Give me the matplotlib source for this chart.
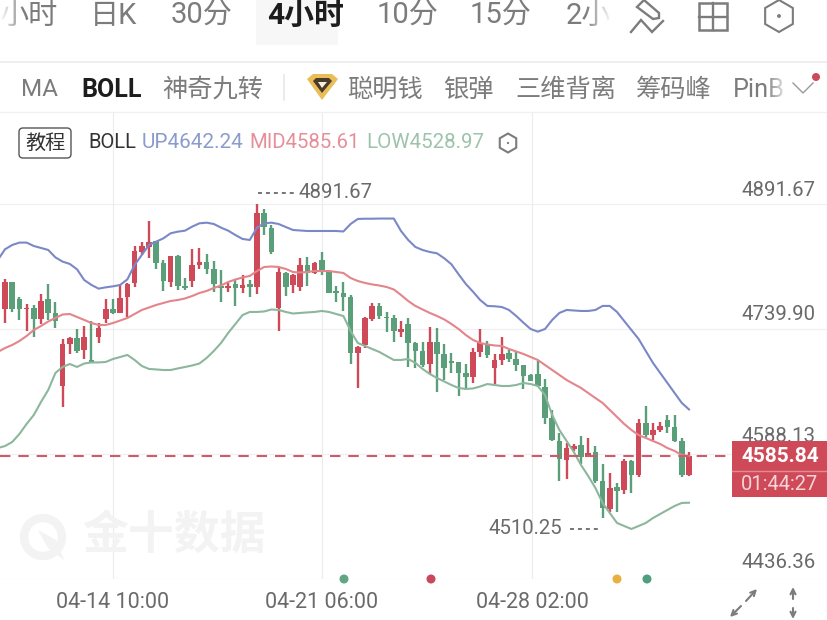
#!/usr/bin/env python
"""4 hour candlestick chart with BOLL bands, app screenshot style"""
import matplotlib
matplotlib.use("Agg")
import matplotlib.pyplot as plt
import numpy as np
from matplotlib.patches import FancyBboxPatch, Polygon, Rectangle, Circle

plt.rcParams["font.family"] = ["Roboto", "Noto Sans CJK SC", "DejaVu Sans"]

opens = [4764.2, 4797.4, 4776, 4763.8, 4765, 4751.7, 4776, 4759.8, 4670.7, 4721.3, 4728.6, 4714.4,
         4702.3, 4729.8, 4751.7, 4764.2, 4759.8, 4778.4, 4795.4, 4833.8, 4839.9, 4847.2, 4819.7, 4797.4,
         4829, 4791.3, 4798.2, 4817.6, 4820.9, 4812.4, 4792.5, 4790.1, 4794.2, 4789.3, 4794.2, 4790.5,
         4880.4, 4863, 4765, 4808.3, 4793.3, 4791.3, 4817.6, 4807.5, 4823.7, 4808.7, 4785.2, 4783.2,
         4779.2, 4711.2, 4720.5, 4751.6, 4767.8, 4754.9, 4752.9, 4736.7, 4745.6, 4723.3, 4713.6, 4697.4,
         4723.7, 4709.1, 4700.2, 4699.4, 4686, 4682, 4711.6, 4721.7, 4693, 4702.3, 4710.4, 4703.5,
         4695.8, 4684.5, 4685.3, 4669.9, 4631.4, 4604.3, 4580.8, 4593.8, 4599, 4584.9, 4590.9, 4555.3,
         4520.9, 4548.4, 4544.4, 4580, 4562.6, 4625.3, 4611.2, 4617.2, 4629.4, 4620.5, 4604.3, 4562.6]
closes = [4797.4, 4764.2, 4764.2, 4765, 4751.7, 4774.3, 4759.8, 4750, 4721.3, 4728.6, 4713.6, 4730.6,
          4699.9, 4740.7, 4764.2, 4759.8, 4778, 4794.2, 4835, 4840.7, 4846, 4819.7, 4798.2, 4829,
          4792.1, 4790.1, 4817.6, 4821.7, 4812.8, 4794.2, 4790.1, 4791.3, 4790.1, 4793.4, 4790.9, 4880.4,
          4863.4, 4833, 4808.7, 4791.3, 4805.5, 4817.6, 4807.5, 4820.4, 4810.7, 4784, 4784, 4779.2,
          4710.4, 4718.5, 4752.9, 4768.2, 4756.1, 4752.9, 4737.5, 4739.5, 4722.5, 4713.6, 4696.2, 4723.7,
          4709.6, 4692.1, 4699, 4686, 4682, 4712.4, 4722.5, 4708.3, 4702.3, 4709.6, 4703.5, 4696.2,
          4682.8, 4677.2, 4670.7, 4631.4, 4605.1, 4581.6, 4595, 4598.2, 4584.9, 4589.7, 4555.7, 4522.1,
          4547.2, 4543.6, 4580, 4562.6, 4625.3, 4611.2, 4617.2, 4622.1, 4620.5, 4604.3, 4562.6, 4585.84]
highs = [4800.2, 4797.4, 4779.2, 4769.9, 4769, 4782, 4794.2, 4773.1, 4727.4, 4730.6, 4739.5, 4744,
         4749.6, 4746.8, 4776.4, 4776.4, 4794.2, 4795.4, 4840.7, 4846, 4871, 4847.2, 4823.7, 4829,
         4829.8, 4801.4, 4837, 4837.9, 4830.6, 4822.9, 4811.6, 4795.4, 4799.4, 4805.5, 4799.4, 4891.67,
         4885.2, 4866.2, 4813.6, 4809.5, 4806.3, 4825.7, 4826.9, 4820.8, 4833, 4809.5, 4792.5, 4797.4,
         4781.2, 4719.3, 4754.1, 4771.9, 4771.9, 4760.1, 4756.9, 4749.6, 4752.9, 4724.5, 4724.5, 4742.7,
         4740.7, 4721.3, 4711.2, 4700.2, 4697, 4716.4, 4739.9, 4725.3, 4709.1, 4729.8, 4714.4, 4711.6,
         4696.2, 4685.3, 4701.5, 4678.8, 4641.5, 4614, 4601, 4600.2, 4610, 4607.1, 4598.2, 4576,
         4564.6, 4553.3, 4582, 4580.8, 4630.6, 4646.4, 4625.3, 4627.4, 4635.4, 4635.4, 4607.1, 4590.1]
lows = [4746.8, 4761, 4750.8, 4737.9, 4730.6, 4745.6, 4750.8, 4741.6, 4644.8, 4709.2, 4710.4, 4703.1,
        4699, 4723.3, 4746.8, 4757.7, 4759, 4754.9, 4791.3, 4829.8, 4825.7, 4812.4, 4786.5, 4790.5,
        4787.3, 4787.3, 4791.3, 4812.4, 4806.7, 4785.2, 4773.1, 4785.2, 4767.9, 4783.2, 4779.2, 4782,
        4854, 4831, 4737.5, 4780, 4783.2, 4786.4, 4792.5, 4806.7, 4805.5, 4783.2, 4772.3, 4761.8,
        4697, 4668.7, 4716.4, 4749.6, 4752, 4736.7, 4723.7, 4729.8, 4694.2, 4693, 4694.2, 4685.3,
        4663.8, 4678, 4686.9, 4658.6, 4667.9, 4674.7, 4706.3, 4704.3, 4673.1, 4696.2, 4699.4, 4689.3,
        4667, 4676.8, 4669.9, 4624.5, 4604.3, 4555.3, 4557.7, 4591.7, 4576, 4584, 4552.5, 4510.25,
        4518.1, 4518.1, 4539.5, 4541.1, 4560.6, 4609.1, 4605.1, 4614.4, 4614, 4603.1, 4560.6, 4561.8]

# band values start one candle before the first visible one
boll_up = [4823.7, 4836.7, 4841.9, 4844.8, 4844.8, 4840.7, 4838.3, 4835.9, 4826.9, 4821.7, 4818.9, 4812.4,
           4799.4, 4793.4, 4788.9, 4790.5, 4791.7, 4793.4, 4800.2, 4817.6, 4829.8, 4841.9, 4846, 4850,
           4856.1, 4858.1, 4859.3, 4864.2, 4868.2, 4869, 4867.4, 4863, 4859.3, 4854, 4849.2, 4848,
           4863, 4868.2, 4869, 4867.4, 4863.7, 4860.1, 4859.5, 4858.9, 4858.9, 4858.9, 4858.9, 4858.9,
           4858.3, 4867.4, 4873.5, 4873.8, 4873.8, 4874, 4874, 4874, 4858.9, 4848, 4839.5, 4835.8,
           4833.4, 4831.8, 4825.8, 4818.5, 4806.3, 4794.6, 4785.2, 4775.1, 4767.9, 4767.5, 4766.6, 4763,
           4755.7, 4747.6, 4739.9, 4736.7, 4739.9, 4750.9, 4759.4, 4763, 4762.4, 4761.8, 4761.8, 4763,
           4767.9, 4767.9, 4760.6, 4749.6, 4738.7, 4727.8, 4713.2, 4698.7, 4686.5, 4674.4, 4662.2, 4650.1, 4642.24]
boll_mid = [4712, 4716.8, 4720.5, 4725.3, 4731.4, 4738.7, 4743.6, 4749, 4753.3, 4757.5, 4758.1, 4754.5,
            4750.9, 4747.2, 4744.8, 4744.8, 4747.2, 4750.2, 4753.3, 4758.1, 4763, 4766, 4769.1, 4771.5,
            4773.9, 4775.1, 4777, 4780, 4783.6, 4786.1, 4789.7, 4792.7, 4797, 4800, 4802.5, 4804.3,
            4810.3, 4815.2, 4815.8, 4815.2, 4812.8, 4809.1, 4808.5, 4809.1, 4810.3, 4810.3, 4810.3, 4809.1,
            4807.9, 4801.8, 4798.2, 4795.8, 4794, 4792.7, 4790.9, 4787.9, 4781.2, 4773.9, 4767.9, 4763.6,
            4759.4, 4755.7, 4751.5, 4746, 4739.9, 4732.6, 4726.6, 4722.9, 4721.1, 4719.9, 4719.3, 4715.6,
            4712.6, 4709.6, 4705.9, 4702.3, 4696.2, 4690.1, 4684.1, 4678, 4673.1, 4668.3, 4662.2, 4656.1,
            4650.1, 4641.6, 4633.1, 4624.6, 4617.3, 4611.2, 4607.6, 4603.9, 4600.3, 4595.4, 4591.8, 4586.9, 4585.61]
boll_low = [4595.4, 4597.8, 4602.7, 4612.4, 4624.6, 4635.5, 4651.3, 4665.8, 4686.5, 4693.8, 4697.4, 4693.8,
            4698, 4699.3, 4699.3, 4699.9, 4703.5, 4705.9, 4708.4, 4702.3, 4695, 4691.4, 4690.8, 4690.1,
            4690.1, 4692, 4693.8, 4695.6, 4698, 4704.7, 4713.2, 4722.9, 4735.1, 4746, 4756.9, 4760.6,
            4760.6, 4761.2, 4763.6, 4763, 4760.6, 4758.7, 4759.4, 4760, 4760.6, 4761.8, 4760.6, 4758.1,
            4755.7, 4737.5, 4722.9, 4719.3, 4715.6, 4712, 4707.1, 4702.3, 4702.3, 4703.5, 4698.7, 4691.4,
            4685.3, 4680.4, 4676.2, 4671.9, 4668.3, 4667.1, 4667.7, 4670.1, 4673.1, 4671.9, 4670.7, 4670.7,
            4671.9, 4674.4, 4673.1, 4670.7, 4659.8, 4635.5, 4617.3, 4603.9, 4590.6, 4574.8, 4561.4, 4546.9,
            4528.7, 4516.5, 4504.4, 4500.7, 4497.1, 4500.7, 4504.4, 4510.4, 4515.3, 4520.2, 4525, 4528.7, 4528.97]

grid_prices = [4891.67, 4739.90, 4588.13, 4436.36]
price_labels = ["4891.67", "4739.90", "4588.13", "4436.36"]
date_labels = ["04-14 10:00", "04-21 06:00", "04-28 02:00"]
date_candles = [15, 44, 73.2]
last_price = 4585.84
countdown = "01:44:27"

RED = "#cf4a58"
GREEN = "#5b9f7a"
GRAY = "#7c7c7c"
DARK = "#6a6a6a"

fig = plt.figure(figsize=(8.28, 6.2), dpi=100, facecolor="white")

# pixel helpers, used for placing the axes only
px_top, px_bottom = 112, 579
ax = fig.add_axes([0, 1 - px_bottom / 620, 1, (px_bottom - px_top) / 620])
ax.set_xlim(-5 / 7.2, 823 / 7.2)
per_px = (grid_prices[0] - grid_prices[3]) / 375.0
ax.set_ylim(grid_prices[3], grid_prices[0] + (204 - px_top) * per_px)
ax.axis("off")

idx = np.arange(len(opens))
for p in grid_prices:
    ax.axhline(p, color="#f0f0f0", lw=0.9, zorder=1)
for i in date_candles:
    ax.axvline(i, color="#ececec", lw=0.8, zorder=1)

colors = [RED if c >= o else GREEN for o, c in zip(opens, closes)]
ax.vlines(idx, lows, highs, colors=colors, lw=1.7, zorder=3)
body_h = np.abs(np.array(closes) - np.array(opens))
body_b = np.minimum(opens, closes)
ax.bar(idx, np.maximum(body_h, 1.8), bottom=body_b, width=0.78, color=colors, zorder=3)

band_x = np.arange(-1, len(opens))
ax.plot(band_x, boll_up, color="#7b88c8", lw=1.5, zorder=4)
ax.plot(band_x, boll_mid, color="#e3858b", lw=1.5, zorder=4)
ax.plot(band_x, boll_low, color="#8cb79c", lw=1.5, zorder=4)

# chrome on top, in screen pixels
ov = fig.add_axes([0, 0, 1, 1], zorder=5)
ov.set_xlim(0, 828)
ov.set_ylim(620, 0)
ov.axis("off")
ov.patch.set_alpha(0)

# watermark
ov.text(174, 537, "金十数据", fontsize=33, fontweight="bold", color="#f3f3f3", ha="center", va="center", zorder=0)
ov.add_patch(Circle((43, 537), 19, fill=False, ec="#f3f3f3", lw=6, zorder=0))
ov.add_patch(Polygon([(38, 530), (56, 540), (64, 560), (48, 548)], fc="#f3f3f3", ec="none", zorder=0))

# top tabs
ov.add_patch(Rectangle((256, 0), 82, 45, fc="#f7f7f7", ec="none", zorder=0))
tabs = [("小时", 28), ("日K", 114), ("30分", 202), ("10分", 408), ("15分", 501), ("2小", 588)]
for s, x in tabs:
    ov.text(x, 16, s, fontsize=21, color=GRAY, ha="center", va="center")
ov.text(306, 16, "4小时", fontsize=21.5, fontweight="bold", color="#1d1d1d", ha="center", va="center")

# toolbar icons
ic = dict(color=GRAY, lw=1.7, solid_joinstyle="miter")
ov.plot([631, 641, 652, 663], [32, 20, 32, 21], **ic)
ov.add_patch(Polygon([(637, 7), (644, 0), (659, 13), (659, 18), (653, 19)], fill=False, ec=GRAY, lw=1.7))
ov.add_patch(Rectangle((699, 3), 28, 27, fill=False, ec=GRAY, lw=1.8))
ov.plot([713, 713], [3, 30], **ic)
ov.plot([699, 727], [16.5, 16.5], **ic)


def hexagon(cx, cy, r, w):
    ang = np.radians(np.arange(90, 450, 60))
    pts = np.c_[cx + r * np.cos(ang) * w, cy + r * np.sin(ang)]
    ov.add_patch(Polygon(pts, fill=False, ec=GRAY, lw=1.5))
    ov.add_patch(Circle((cx, cy), r * 0.12, fc=GRAY, ec="none"))


hexagon(779, 16, 16, 1.0)
hexagon(508, 143, 9.5, 1.0)

ov.plot([0, 828], [62, 62], color="#ebebeb", lw=1.2)
ov.plot([0, 828], [112, 112], color="#f0f0f0", lw=1.0)

# indicator row
ov.text(21, 90, "MA", fontsize=17.5, color=GRAY, va="center")
ov.text(81, 90, "BOLL", fontsize=18, fontweight="bold", color="#1d1d1d", va="center")
ov.text(162, 90, "神奇九转", fontsize=18.2, color=GRAY, va="center")
ov.plot([284, 284], [75, 100], color="#e8e8e8", lw=1.2)
ov.add_patch(Polygon([(307, 79), (313, 74), (332, 74), (338, 79), (322, 100)], fc="#e9bd57", ec="none"))
ov.add_patch(Polygon([(313, 81), (316, 78), (329, 78), (332, 81), (322, 93)], fc="#4a3a2a", ec="none"))
ov.add_patch(Polygon([(318, 82), (327, 82), (322, 88)], fc="#f5efe0", ec="none"))
for s, x in [("聪明钱", 347), ("银弹", 443), ("三维背离", 515), ("筹码峰", 636), ("PinB", 733)]:
    ov.text(x, 90, s, fontsize=18.2, color=GRAY, va="center")
ov.plot([793, 803, 813], [83, 93, 83], color="#9a9a9a", lw=1.0)
ov.add_patch(Circle((816, 77), 4, fc=RED, ec="none"))

# fade at the scrolled edges of both rows
fade = np.zeros((1, 32, 4))
fade[..., :3] = 1
fade[..., 3] = np.linspace(0, 1, 32)
ov.imshow(fade, extent=(765, 790, 105, 72), aspect="auto", zorder=3)
ov.imshow(fade, extent=(585, 612, 35, 0), aspect="auto", zorder=3)
ov.imshow(fade[:, ::-1], extent=(0, 24, 35, 0), aspect="auto", zorder=3)
ov.set_xlim(0, 828)
ov.set_ylim(620, 0)

# legend row
ov.add_patch(FancyBboxPatch((19, 128), 52, 30, boxstyle="round,pad=0,rounding_size=4", fill=False, ec="#555555", lw=1.0))
ov.text(45, 143, "教程", fontsize=14.5, color="#333333", ha="center", va="center")
ov.text(88, 142, "BOLL", fontsize=14.5, color="#333333", va="center")
ov.text(142, 142, "UP4642.24", fontsize=14.9, color="#8b9bcc", va="center")
ov.text(249, 142, "MID4585.61", fontsize=14.7, color="#e68f98", va="center")
ov.text(366, 142, "LOW4528.97", fontsize=14.8, color="#9dc3ab", va="center")

# price axis labels
for s, y in zip(price_labels, [190, 314, 437, 563]):
    ov.text(816, y, s, fontsize=14.7, color=DARK, ha="right", va="center")

# high / low markers
ov.plot([258, 296], [193, 193], color=DARK, lw=1.3, ls=(0, (2.2, 2.2)))
ov.text(299, 193, "4891.67", fontsize=14.7, color=DARK, va="center")
ov.text(489, 529, "4510.25", fontsize=14.7, color=DARK, va="center")
ov.plot([570, 600], [529, 529], color=DARK, lw=1.3, ls=(0, (2.2, 2.2)))

# last price line and box
ax.axhline(last_price, color="#cf5a68", lw=1.5, ls=(0, (5, 3.8)), zorder=5)
ov.add_patch(Rectangle((732, 441), 96, 56, fc=RED, ec="none", zorder=6))
ov.plot([732, 828], [471, 471], color="#e58a93", lw=1.0, zorder=7)
ov.text(780, 456, f"{last_price:.2f}", fontsize=15, fontweight="bold", color="white", ha="center", va="center", zorder=8)
ov.text(780, 484, countdown, fontsize=14.5, color="#f6d5d8", ha="center", va="center", zorder=8)

# event dots and date labels
for x, c in [(344, "#63a581"), (431, "#c9485a"), (617, "#e8b03f"), (647, "#4f9e80")]:
    ov.add_patch(Circle((x, 579), 4.5, fc=c, ec="none", zorder=6))
for s, x in zip(date_labels, [113, 322, 532]):
    ov.text(x, 603, s, fontsize=15.5, color=DARK, ha="center", va="center")

# expand / resize arrows
arr = dict(arrowstyle="->", color=GRAY, lw=1.5, mutation_scale=9, shrinkA=0, shrinkB=0)
ov.annotate("", xy=(757, 589), xytext=(746, 601), arrowprops=arr)
ov.annotate("", xy=(730, 617), xytext=(741, 606), arrowprops=arr)
ov.annotate("", xy=(793, 587), xytext=(793, 599), arrowprops=arr)
ov.annotate("", xy=(793, 619), xytext=(793, 608), arrowprops=arr)

fig.savefig("out.png", dpi=100, facecolor="white")
